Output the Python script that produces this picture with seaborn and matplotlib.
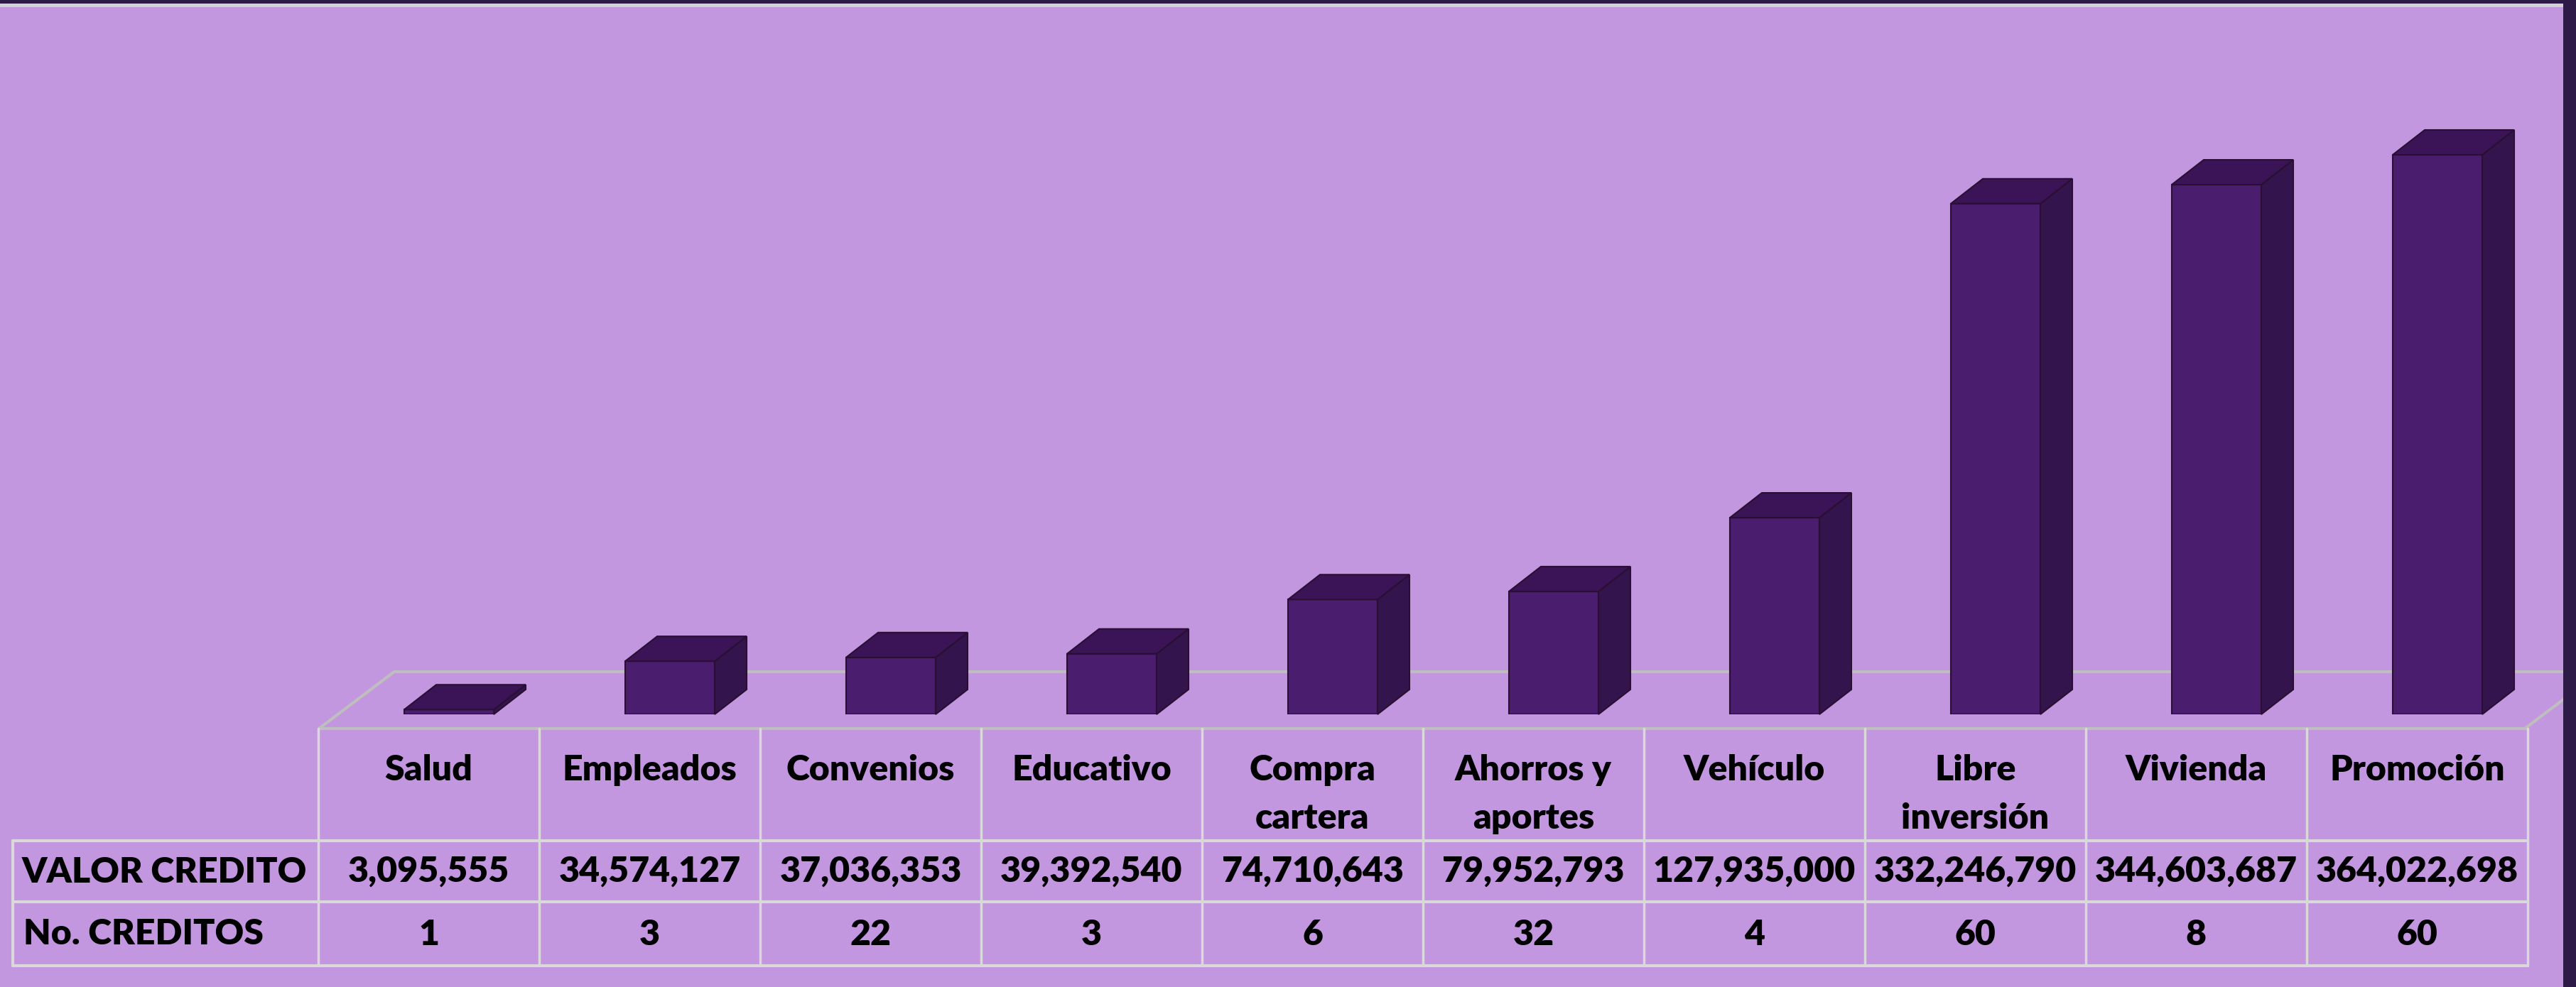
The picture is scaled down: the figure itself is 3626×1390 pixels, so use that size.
import numpy as np
import pandas as pd
import matplotlib
matplotlib.use("Agg")
import matplotlib.pyplot as plt
import seaborn as sns
from matplotlib.patches import Polygon

# datos
categorias = ["Salud", "Empleados", "Convenios", "Educativo", "Compra\ncartera",
              "Ahorros y\naportes", "Vehículo", "Libre\ninversión", "Vivienda", "Promoción"]
valor_credito = [3095555, 34574127, 37036353, 39392540, 74710643, 79952793,
                 127935000, 332246790, 344603687, 364022698]
no_creditos = [1, 3, 22, 3, 6, 32, 4, 60, 8, 60]
filas = ["VALOR CREDITO", "No. CREDITOS"]

W, H = 3626, 1390
fondo = "#C396E0"
frente = "#4A1D6F"
lado = "#33144D"
tapa = "#3A1457"
borde = "#2A0F33"
gris_piso = "#BEBEBE"
gris_tabla = "#D9D9D9"
oscuro = "#2D1A47"

sns.set_theme(style="white")
plt.rcParams["font.family"] = ["Lato", "DejaVu Sans"]

fig = plt.figure(figsize=(W / 100, H / 100), dpi=100)
fig.patch.set_facecolor(fondo)

# lienzo en pixeles para marco, piso y tabla
cv = fig.add_axes([0, 0, 1, 1])
cv.set_xlim(0, W)
cv.set_ylim(H, 0)
cv.axis("off")
cv.fill_between([0, W], 0, 5, color=oscuro, lw=0, zorder=10)
cv.fill_between([0, W], 5, 10, color="#D2D2D2", lw=0, zorder=10)
cv.fill_between([3608, W], 0, H, color=oscuro, lw=0, zorder=11)

# piso 3D
cv.plot([449, 555, 3660], [1026, 946, 946], color=gris_piso, lw=3, solid_capstyle="butt")
cv.plot([3554, 3660], [1026, 946], color=gris_piso, lw=3)

# tabla
col0, ancho_col = 448, 311
n = len(categorias)
x_fin = col0 + ancho_col * n
cv.plot([449, x_fin], [1026, 1026], color=gris_piso, lw=3)
for y in [1184, 1270, 1360]:
    cv.plot([18, x_fin], [y, y], color=gris_tabla, lw=3)
cv.plot([18, 18], [1184, 1360], color=gris_tabla, lw=3)
for k in range(n + 1):
    cv.plot([col0 + ancho_col * k] * 2, [1026, 1360], color=gris_tabla, lw=2.5)

txt = dict(fontsize=36, fontweight="heavy", color="black", ha="center", va="baseline")
for i, cat in enumerate(categorias):
    xc = col0 + ancho_col * (i + 0.5)
    for j, linea in enumerate(cat.split("\n")):
        cv.text(xc, 1099 + 68 * j, linea, **txt)
    cv.text(xc, 1242, f"{valor_credito[i]:,}", **txt)
    cv.text(xc, 1331, str(no_creditos[i]), **txt)
cv.text(231, 1243, filas[0], **txt)
cv.text(33, 1330, filas[1], **{**txt, "ha": "left"})

# barras
x0_px, paso = 632, 311
y0_px, px_por_m = 1006, 788 / 364.022698
ymax = 400
ax = fig.add_axes([(x0_px - paso / 2) / W, (H - y0_px) / H, n * paso / W, ymax * px_por_m / H])
ax.patch.set_alpha(0)
df = pd.DataFrame({"cat": categorias, "valor": np.array(valor_credito) / 1e6})
sns.barplot(data=df, x="cat", y="valor", color=frente, saturation=1, width=126 / 311,
            edgecolor=borde, linewidth=1.5, ax=ax)
ax.set_xlim(-0.5, n - 0.5)
ax.set_ylim(0, ymax)
ax.axis("off")

dx = 45 / paso
dy = 35 / px_por_m
for p in list(ax.patches):
    xa = p.get_x()
    xb = xa + p.get_width()
    h = p.get_height()
    ax.add_patch(Polygon([(xb, 0), (xb + dx, dy), (xb + dx, h + dy), (xb, h)],
                         fc=lado, ec=borde, lw=1.5, clip_on=False))
    ax.add_patch(Polygon([(xa, h), (xb, h), (xb + dx, h + dy), (xa + dx, h + dy)],
                         fc=tapa, ec=borde, lw=1.5, clip_on=False))

fig.savefig("out.png", dpi=100, facecolor=fondo)
